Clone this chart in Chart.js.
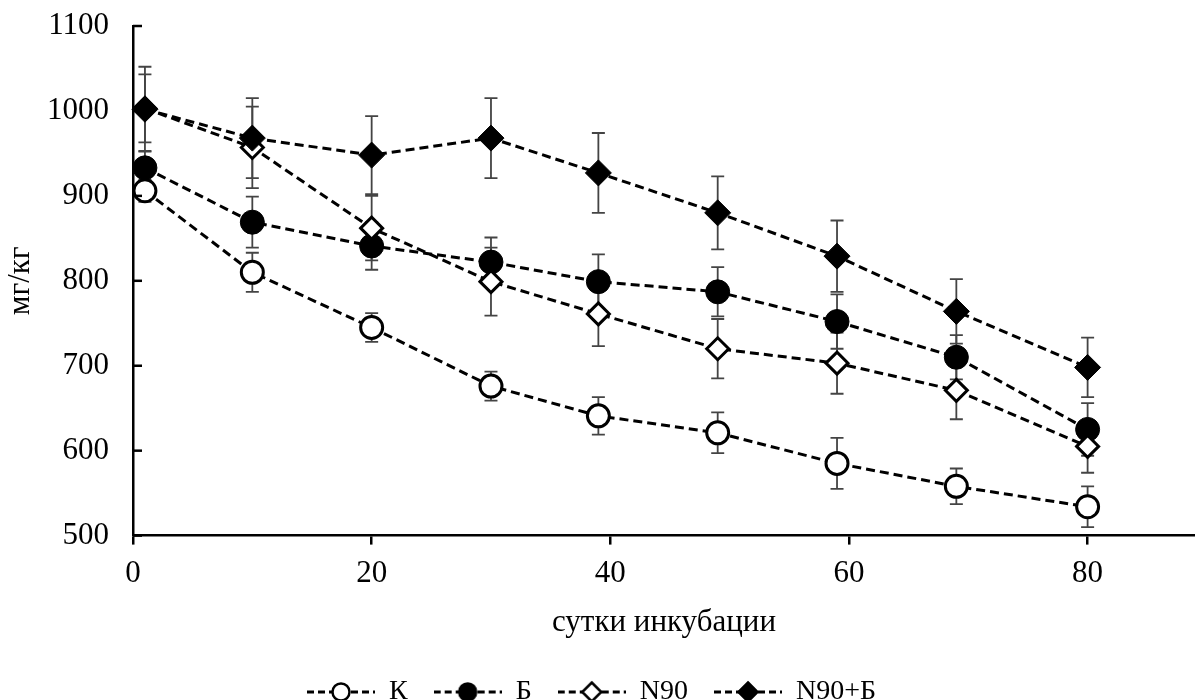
<!DOCTYPE html>
<html>
<head>
<meta charset="utf-8">
<script src="https://cdn.jsdelivr.net/npm/chart.js@4/dist/chart.umd.min.js"></script>
<style>
html,body{margin:0;padding:0;background:#fff;}
#wrap{width:1195px;height:700px;position:relative;}
</style>
</head>
<body>
<div id="wrap"><canvas id="c"></canvas></div>
<script>
// ---- data ----
const days = [1, 10, 20, 30, 39, 49, 59, 69, 80];
const seriesLabels = ['К', 'Б', 'N90', 'N90+Б'];
const valK      = [906, 810, 745, 676, 641, 621, 585, 558, 534];
const valB      = [933, 869, 841, 822, 799, 787, 752, 710, 625];
const valN90    = [1003, 957, 862, 799, 761, 720, 703, 671, 605];
const valN90B   = [1002, 968, 948, 968, 927, 880, 829, 764, 698];
const errK      = [13, 23, 17, 17, 22, 24, 30, 21, 24];
const errB      = [20, 30, 28, 29, 32, 29, 32, 26, 31];
const errN90    = [40, 48, 38, 40, 38, 35, 36, 34, 31];
const errN90B   = [50, 47, 46, 47, 47, 43, 42, 38, 35];
const yTicks    = [500, 600, 700, 800, 900, 1000, 1100];
const xTicks    = [0, 20, 40, 60, 80];

const FONT = "'Liberation Serif', 'Times New Roman', serif";

function pts(vals){ return days.map((d,i)=>({x:d, y:vals[i]})); }

function legendIcon(shape, filled){
  const c = document.createElement('canvas');
  c.width = 68; c.height = 26;
  const g = c.getContext('2d');
  g.strokeStyle = '#000'; g.lineWidth = 3; g.setLineDash([7,4]);
  g.beginPath(); g.moveTo(0,13); g.lineTo(68,13); g.stroke();
  g.setLineDash([]);
  g.fillStyle = filled ? '#000' : '#fff';
  g.lineWidth = 2.5;
  g.beginPath();
  if (shape === 'circle') { g.arc(34,13,8.5,0,Math.PI*2); }
  else { g.moveTo(34,3.5); g.lineTo(43.5,13); g.lineTo(34,22.5); g.lineTo(24.5,13); g.closePath(); }
  g.fill(); g.stroke();
  return c;
}
const icons = [legendIcon('circle',false), legendIcon('circle',true), legendIcon('diamond',false), legendIcon('diamond',true)];

const errorBars = {
  id: 'errorBars',
  beforeDatasetsDraw(chart){
    const {ctx, scales:{x, y}} = chart;
    ctx.save();
    ctx.strokeStyle = '#444'; ctx.lineWidth = 1.8;
    chart.data.datasets.forEach(ds=>{
      ds.data.forEach((p,j)=>{
        const e = ds.errors[j];
        const px = x.getPixelForValue(p.x);
        const t = y.getPixelForValue(p.y + e);
        const b = y.getPixelForValue(p.y - e);
        ctx.beginPath();
        ctx.moveTo(px, t); ctx.lineTo(px, b);
        ctx.moveTo(px-6.5, t); ctx.lineTo(px+6.5, t);
        ctx.moveTo(px-6.5, b); ctx.lineTo(px+6.5, b);
        ctx.stroke();
      });
    });
    ctx.restore();
  }
};

const yInwardTicks = {
  id: 'yInwardTicks',
  afterDraw(chart){
    const {ctx, scales:{y}, chartArea} = chart;
    ctx.save(); ctx.strokeStyle = '#000'; ctx.lineWidth = 2.5;
    yTicks.forEach(v=>{
      const py = y.getPixelForValue(v);
      ctx.beginPath(); ctx.moveTo(chartArea.left, py); ctx.lineTo(chartArea.left + 9, py); ctx.stroke();
    });
    ctx.restore();
  }
};

function mkDs(label, vals, errs, style, filled, radius, bw, order){
  return {
    label, data: pts(vals), errors: errs,
    borderColor: '#000', borderWidth: 3, borderDash: [9,5],
    pointStyle: style, pointRadius: radius, pointHoverRadius: radius,
    pointBackgroundColor: filled ? '#000' : '#fff',
    pointBorderColor: '#000', pointBorderWidth: bw,
    fill: false, tension: 0, order, clip: false
  };
}

new Chart(document.getElementById('c'), {
  type: 'line',
  data: {
    datasets: [
      mkDs(seriesLabels[0], valK, errK, 'circle', false, 11, 3, 4),
      mkDs(seriesLabels[1], valB, errB, 'circle', true, 12, 1, 3),
      mkDs(seriesLabels[2], valN90, errN90, 'rectRot', false, 11, 3, 2),
      mkDs(seriesLabels[3], valN90B, errN90B, 'rectRot', true, 13, 1, 1)
    ]
  },
  plugins: [errorBars, yInwardTicks],
  options: {
    responsive: true, maintainAspectRatio: false, animation: false,
    layout: { autoPadding: false, padding: { top: 26, right: 0, left: -12, bottom: -16 } },
    plugins: {
      tooltip: { enabled: false },
      legend: {
        position: 'bottom',
        labels: {
          usePointStyle: true, pointStyleWidth: 68, boxHeight: 26,
          color: '#000', font: { family: FONT, size: 28 }, padding: 26,
          sort: (a,b)=>a.datasetIndex-b.datasetIndex,
          generateLabels: (chart)=>chart.data.datasets.map((ds,i)=>({
            text: ds.label, pointStyle: icons[i], datasetIndex: i,
            fillStyle: '#000', strokeStyle: '#000', lineWidth: 0, hidden: false, fontColor: '#000'
          }))
        }
      }
    },
    scales: {
      x: {
        type: 'linear', min: 0, max: 89,
        afterBuildTicks: (s)=>{ s.ticks = xTicks.map(v=>({value:v})); },
        afterFit: (s)=>{ s.paddingLeft = 0; s.paddingRight = 0; },
        grid: { drawOnChartArea: false, drawTicks: true, tickLength: 9, color: '#000', lineWidth: 2.5 },
        border: { display: true, color: '#000', width: 2.5 },
        ticks: { color: '#000', font: { family: FONT, size: 31 }, padding: 11, maxRotation: 0, callback: v=>String(v) },
        title: { display: true, text: 'сутки инкубации', color: '#000', font: { family: FONT, size: 31 }, padding: { top: 0, bottom: 11 } }
      },
      y: {
        min: 500, max: 1100,
        afterBuildTicks: (s)=>{ s.ticks = yTicks.map(v=>({value:v})); },
        afterFit: (s)=>{ s.width = 145; s.paddingTop = 0; s.paddingBottom = 0; },
        grid: { drawOnChartArea: false, drawTicks: false },
        border: { display: true, color: '#000', width: 2.5 },
        ticks: { color: '#000', font: { family: FONT, size: 31 }, padding: 24, callback: v=>String(v) },
        title: { display: true, text: 'мг/кг', color: '#000', font: { family: FONT, size: 31 }, padding: { top: 14, bottom: 0 } }
      }
    }
  }
});
</script>
</body>
</html>
